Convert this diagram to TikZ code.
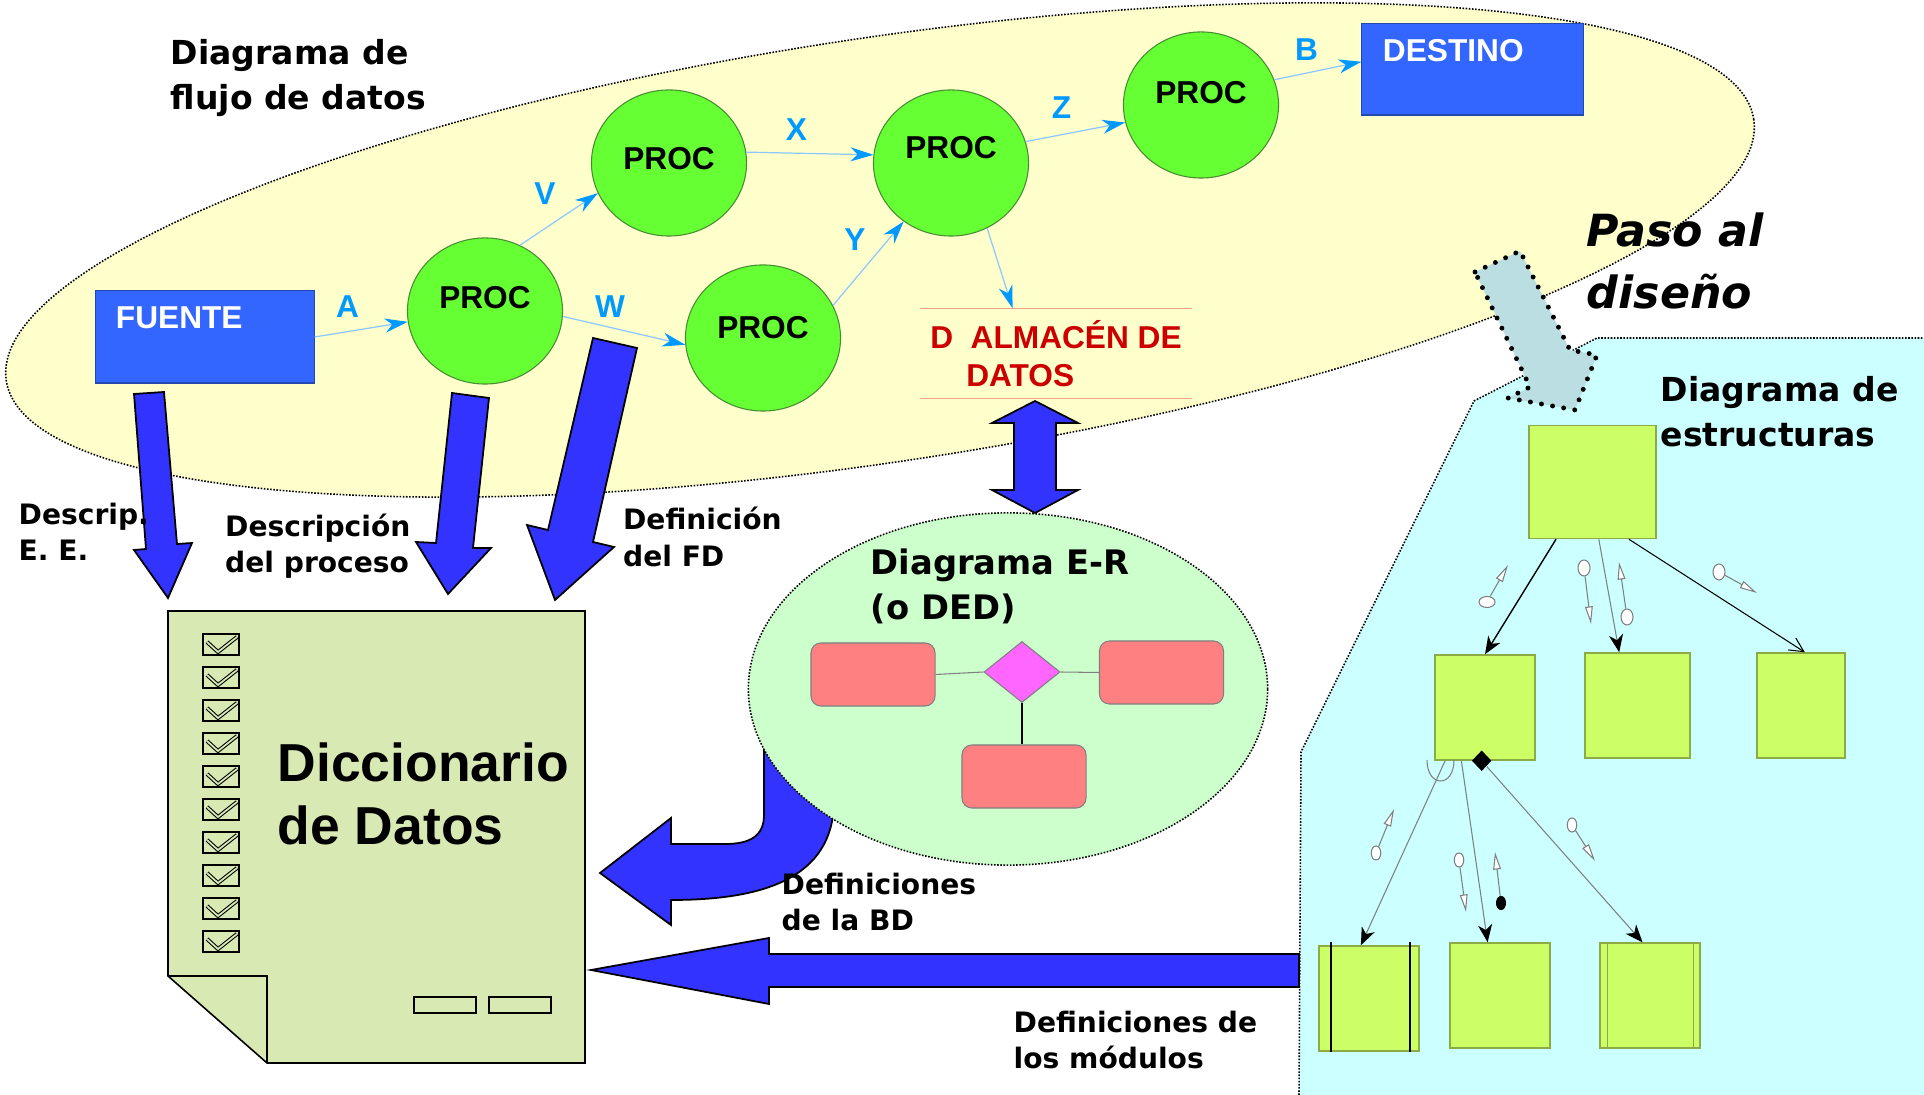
\documentclass[tikz,border=0pt]{standalone}
\usepackage{fontspec}
\setmainfont{DejaVu Sans}
\newfontfamily\arialfont{Liberation Sans}
\usetikzlibrary{arrows.meta,shapes.geometric,calc}

\definecolor{fondofd}{RGB}{255,255,204}
\definecolor{procverde}{RGB}{102,255,51}
\definecolor{bordeproc}{RGB}{70,140,50}
\definecolor{azulcaja}{RGB}{51,102,255}
\definecolor{azulflecha}{RGB}{51,51,255}
\definecolor{azulflujo}{RGB}{0,153,255}
\definecolor{lineaflujo}{RGB}{140,200,255}
\definecolor{fondoer}{RGB}{204,255,204}
\definecolor{entidad}{RGB}{255,128,128}
\definecolor{relacion}{RGB}{255,102,255}
\definecolor{papel}{RGB}{216,233,180}
\definecolor{verdemod}{RGB}{204,255,102}
\definecolor{bordemod}{RGB}{140,170,70}
\definecolor{fondoest}{RGB}{204,255,255}
\definecolor{rojoalm}{RGB}{204,0,0}
\definecolor{lineaalm}{RGB}{240,165,135}
\definecolor{pasogris}{RGB}{186,222,226}

\begin{document}
\begin{tikzpicture}[x=0.01cm,y=-0.01cm,
    punteado/.style={draw=black,line width=0.45pt,dash pattern=on 0.45pt off 0.45pt},
    titulo/.style={font=\bfseries\fontsize{9.4}{12.8}\selectfont,align=left,anchor=north west,inner sep=0pt},
    etiq/.style={font=\bfseries\fontsize{8}{10.4}\selectfont,align=left,anchor=north west,inner sep=0pt},
    flecha/.style={fill=azulflecha,draw=black,line width=0.5pt},
    flujo/.style={draw=lineaflujo,line width=0.35pt,-{Stealth[length=6.5pt,width=4pt,inset=2pt,azulflujo]}},
    letra/.style={font=\arialfont\bfseries\fontsize{9}{11}\selectfont,text=azulflujo,inner sep=0pt},
    extremo/.style={rectangle,fill=azulcaja,draw=azulcaja!70!black,line width=0.3pt,text=white,
        font=\arialfont\bfseries\fontsize{9}{11}\selectfont,align=left,inner ysep=0pt,
        text height=0.22cm,text depth=0.38cm},
    entidad/.style={rectangle,rounded corners=0.1cm,fill=entidad,draw=gray,line width=0.3pt,
        minimum width=1.24cm,minimum height=0.63cm},
    gris/.style={draw=gray,line width=0.3pt},
    flechapar/.style={draw=gray,line width=0.3pt,-{Triangle[length=5pt,width=2.2pt,fill=white]}}]
\useasboundingbox (0,0) rectangle (1924,1095);

% zonas de fondo
\node[ellipse,punteado,fill=fondofd,minimum width=17.66cm,minimum height=4.24cm,rotate=8.5] (dfd) at (880,250) {};
\fill[fondoest] (1299,1095) -- (1301,752) -- (1474,401) -- (1597,338) -- (1924,338) -- (1924,1095) -- cycle;
\draw[punteado] (1299,1095) -- (1301,752) -- (1474,401) -- (1597,338) -- (1924,338);

% paso al diseno
\filldraw[fill=pasogris,draw=black,line width=1.4pt,dash pattern=on 0pt off 3.2pt,line cap=round,line join=round]
    (1475,272) -- (1520,251) -- (1570,350) -- (1597,355) -- (1575,410) -- (1508,398) -- (1530,387) -- cycle;

% diagrama de flujo de datos
\node[extremo,minimum height=0.92cm,text width=1.78cm,inner xsep=0.2cm] (fuente) at (205,337) {FUENTE};
\node[extremo,minimum height=0.91cm,text width=1.79cm,inner xsep=0.21cm] (destino) at (1472.5,69.5) {DESTINO};

\begin{scope}[every node/.style={ellipse,draw=bordeproc,line width=0.3pt,fill=procverde,
        minimum width=1.55cm,minimum height=1.46cm,inner sep=0pt,text height=0.23cm,text depth=0.28cm,
        font=\arialfont\bfseries\fontsize{9}{11}\selectfont}]
    \node (p1) at (485,311) {PROC};
    \node[text depth=0.10cm] (p2) at (669,163) {PROC};
    \node[text depth=0.22cm] (p3) at (763,338) {PROC};
    \node[text depth=0.32cm] (p4) at (951,163) {PROC};
    \node[text depth=0.25cm] (p5) at (1201,105) {PROC};
\end{scope}

\node[rectangle,minimum width=2.70cm,minimum height=0.89cm,align=left,inner sep=0pt,
      text=rojoalm,font=\arialfont\bfseries\fontsize{9}{10.8}\selectfont]
    (alm) at (1056,353.5) {D\ \ ALMACÉN DE\\\hspace*{0.36cm}DATOS};
\draw[lineaalm,line width=0.4pt] (alm.north west) -- (alm.north east) (alm.south west) -- (alm.south east);

\begin{scope}[flujo]
    \draw (fuente.east) -- (p1.188);
    \draw (p1.62) -- (p2.203);
    \draw (p1.-4) -- (p3.185);
    \draw (p2.8) -- (p4.174);
    \draw (p3.25) -- (p4.231);
    \draw (p4.16) -- (p5.193);
    \draw (p5.19) -- (destino.176);
    \draw (p4.-61) -- ($(alm.north west)!.34!(alm.north east)$);
\end{scope}

\node[letra] (la) at (347.5,306.5) {A};
\node[letra] (lv) at (545,194) {V};
\node[letra] (lw) at (610,306.7) {W};
\node[letra] (lx) at (796.5,129.7) {X};
\node[letra] (ly) at (855,239.5) {Y};
\node[letra] (lz) at (1061.5,107.5) {Z};
\node[letra] (lb) at (1306.5,50) {B};

% flechas gruesas
\begin{scope}[flecha]
    \filldraw (134,394) -- (164,392) -- (177,544) -- (192,543) -- (168,598) -- (134,550) -- (146,549) -- cycle;
    \filldraw (452,393) -- (489,398) -- (473,548) -- (491,548) -- (448,594) -- (416,542) -- (436,543) -- cycle;
    \filldraw (593,338) -- (637,348) -- (593,542) -- (614,547) -- (555,600) -- (527,525) -- (548,530) -- cycle;
    \filldraw (1035,401) -- (1078,423) -- (1056,423) -- (1056,490) -- (1078,490) -- (1035,513)
        -- (992,490) -- (1014,490) -- (1014,423) -- (992,423) -- cycle;
    \filldraw (764,700) -- (764,815) .. controls (764,836) and (750,844) .. (725,844) -- (671,844) -- (671,818)
        -- (600,873) -- (671,925) -- (671,900) .. controls (760,900) and (834,880) .. (834,800) -- (834,700) -- cycle;
\end{scope}

% diagrama E-R
\node[ellipse,punteado,fill=fondoer,minimum width=5.19cm,minimum height=3.52cm] (er) at (1008,689) {};
\node[entidad] (e1) at (873,674.5) {};
\node[entidad] (e2) at (1161.5,672.5) {};
\node[entidad] (e3) at (1024,776.5) {};
\node[diamond,fill=relacion,draw=gray,line width=0.3pt,inner sep=0pt,minimum width=0.76cm,minimum height=0.61cm] (rel) at (1022,672) {};
\draw[gris] (e1.east) -- (rel.west);
\draw[gris] (rel.east) -- (e2.west);
\draw[line width=0.4pt] (rel.south) -- (rel.south |- e3.north);

% diccionario de datos
\filldraw[fill=papel,draw=black,line width=0.45pt] (168,611) -- (585,611) -- (585,1063) -- (267,1063) -- (168,976) -- cycle;
\draw[line width=0.45pt] (168,976) -- (267,976) -- (267,1063);
\foreach \i in {0,...,9}{
    \draw[line width=0.45pt] (203,{634+33*\i}) rectangle (239,{655+33*\i});
    \draw[double=papel,double distance=0.5pt,line width=0.3pt] (207,{642+33*\i}) -- (218,{652+33*\i}) -- (237,{637+33*\i});
}
\draw[line width=0.45pt] (414,997) rectangle (476,1013) (489,997) rectangle (551,1013);
\node[anchor=north west,inner sep=0pt,align=left,font=\arialfont\bfseries\fontsize{15.2}{17.9}\selectfont] (dicc) at (277,742) {Diccionario\\de Datos};

\filldraw[flecha] (1299,954) -- (769,954) -- (769,938) -- (591,970) -- (769,1004) -- (769,987) -- (1299,987) -- cycle;

% diagrama de estructuras
\begin{scope}[every node/.style={rectangle,fill=verdemod,draw=bordemod,line width=0.4pt,inner sep=0pt,minimum height=1.05cm}]
    \node[minimum width=1.27cm,minimum height=1.13cm] (mprin) at (1592.5,482) {};
    \node[minimum width=1.00cm] (m1) at (1485,707.5) {};
    \node[minimum width=1.05cm] (m2) at (1637.5,705.5) {};
    \node[minimum width=0.88cm] (m3) at (1801,705.5) {};
    \node[minimum width=1.00cm] (m11) at (1369,998.5) {};
    \node[minimum width=1.00cm] (m12) at (1500,995.5) {};
    \node[minimum width=1.00cm] (m13) at (1650,995.5) {};
\end{scope}
\draw[line width=0.5pt] ([shift={(0.13cm,0.03cm)}]m11.north west) -- ([xshift=0.13cm]m11.south west)
    ([shift={(-0.095cm,0.03cm)}]m11.north east) -- ([xshift=-0.095cm]m11.south east);
\draw[bordemod,line width=0.4pt] ([xshift=0.08cm]m13.north west) -- ([xshift=0.08cm]m13.south west)
    ([xshift=-0.07cm]m13.north east) -- ([xshift=-0.07cm]m13.south east);
\node[diamond,fill=black,inner sep=0pt,minimum width=0.2cm,minimum height=0.21cm] (sel) at ($(m1.south west)!.467!(m1.south east)$) {};
\draw[gris] (1427,760) .. controls (1427,788) and (1454,788) .. (1454,760);

\begin{scope}[>={Stealth[black,length=5pt,width=4pt,inset=1.5pt]}]
    \draw[->,line width=0.4pt] ($(mprin.south west)!.216!(mprin.south east)$) -- (m1.north);
    \draw[->,gris] ($(mprin.south west)!.549!(mprin.south east)$) -- ($(m2.north west)!.328!(m2.north east)$);
    \draw[-{Straight Barb[length=4pt,width=4pt]},line width=0.3pt] ($(mprin.south west)!.783!(mprin.south east)$) -- ($(m3.north west)!.543!(m3.north east)$);
    \draw[->,gris] ($(m1.south west)!.107!(m1.south east)$) -- ($(m11.north west)!.42!(m11.north east)$);
    \draw[->,gris] ($(m1.south west)!.267!(m1.south east)$) -- ($(m12.north west)!.378!(m12.north east)$);
    \draw[->,gris] (sel) -- ($(m13.north west)!.426!(m13.north east)$);
\end{scope}

% parametros
\begin{scope}[every node/.style={ellipse,draw=gray,fill=white,line width=0.3pt,inner sep=0pt,minimum width=0.12cm,minimum height=0.16cm}]
    \node[minimum width=0.16cm,minimum height=0.11cm] (c1) at (1487,602) {};
    \node (c2) at (1584,568) {};
    \node (c3) at (1627,617) {};
    \node (c4) at (1719,572) {};
    \node[minimum width=0.095cm,minimum height=0.14cm] (c5) at (1376,853) {};
    \node[minimum width=0.095cm,minimum height=0.14cm] (c6) at (1459,860) {};
    \node[minimum width=0.09cm,minimum height=0.13cm,fill=black,draw=black] (c7) at (1501,903) {};
    \node[minimum width=0.095cm,minimum height=0.14cm] (c8) at (1572,825) {};
\end{scope}
\coordinate (c1t) at (1508,565);
\coordinate (c2t) at (1591,624);
\coordinate (c3t) at (1619,562);
\coordinate (c4t) at (1757,593);
\coordinate (c5t) at (1394,809);
\coordinate (c6t) at (1466,912);
\coordinate (c7t) at (1495,852);
\coordinate (c8t) at (1595,861);
\foreach \c in {c1,c2,c3,c4,c5,c6,c7,c8}
    \draw[flechapar] (\c) -- (\c t);

% textos
\node[titulo] (tdfd) at (170,39) {Diagrama de\\flujo de datos};
\node[titulo] (test) at (1660,376) {Diagrama de\\estructuras};
\node[titulo,font=\bfseries\fontsize{9.6}{12.8}\selectfont] (ter) at (870,548) {Diagrama E-R\\(o DED)};
\node[anchor=north west,inner sep=0pt,align=left,font=\bfseries\itshape\fontsize{12.6}{17.6}\selectfont] (tpaso) at (1586,212) {Paso al\\diseño};
\node[etiq] (tee) at (18,502) {Descrip.\\E. E.};
\node[etiq] (tproc) at (224.5,513) {Descripción\\del proceso};
\node[etiq] (tfd) at (622.4,506.7) {Definición\\del FD};
\node[etiq] (tbd) at (781,872) {Definiciones\\de la BD};
\node[etiq] (tmod) at (1013,1010) {Definiciones de\\los módulos};
\end{tikzpicture}
\end{document}
